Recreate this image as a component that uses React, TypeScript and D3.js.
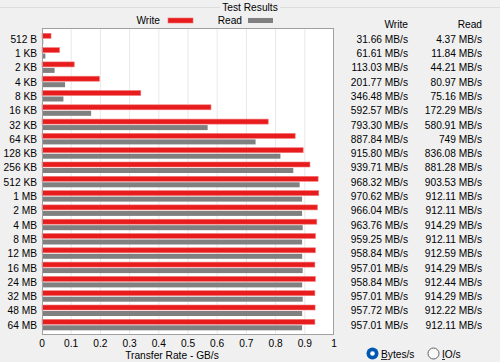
import React from 'react';
import * as d3 from 'd3';

const sizes = ['512 B', '1 KB', '2 KB', '4 KB', '8 KB', '16 KB', '32 KB', '64 KB', '128 KB', '256 KB', '512 KB',
  '1 MB', '2 MB', '4 MB', '8 MB', '12 MB', '16 MB', '24 MB', '32 MB', '48 MB', '64 MB'];
const writeMBs = [31.66, 61.61, 113.03, 201.77, 346.48, 592.57, 793.30, 887.84, 915.80, 939.71, 968.32,
  970.62, 966.04, 963.76, 959.25, 958.84, 957.01, 958.84, 957.01, 957.72, 957.01];
const readMBs = [4.37, 11.84, 44.21, 80.97, 75.16, 172.29, 580.91, 749, 836.08, 881.28, 903.53,
  912.11, 912.11, 914.29, 912.11, 912.59, 914.29, 912.44, 914.29, 912.22, 912.11];
const xTicks = [0, 0.1, 0.2, 0.3, 0.4, 0.5, 0.6, 0.7, 0.8, 0.9, 1];

const W = 500, H = 362;
const font = '"Liberation Sans", Arial, sans-serif';

function fmt(v: number) {
  const s = v.toFixed(2);
  return (s.endsWith('.00') ? String(Math.round(v)) : s) + ' MB/s';
}

export default function App() {
  // bars are in GiB/s (MB/s / 1024)
  const x = d3.scaleLinear().domain([0, 1]).range([42, 334]);
  const y = d3.scaleBand().domain(sizes).range([31.85, 332.15]).padding(0);
  const plotTop = 28, plotBottom = 335;

  return (
    <svg width={W} height={H} style={{ position: 'absolute', left: 0, top: 0, background: '#f0f0f0' }}
      fontFamily={font} fontSize={10.2}>
      <rect width={W} height={H} fill="#f0f0f0" />
      {/* group box line */}
      <line x1={0} x2={W} y1={7.5} y2={7.5} stroke="#dcdcdc" />
      <rect x={220} y={0} width={60} height={14} fill="#f0f0f0" />
      <text x={250} y={11} textAnchor="middle" fill="#000">Test Results</text>

      {/* legend */}
      <text x={160} y={24} textAnchor="end">Write</text>
      <rect x={168} y={18} width={25} height={5} fill="#e81c1c" stroke="#f07070" strokeWidth={0.6} />
      <text x={242} y={24} textAnchor="end">Read</text>
      <rect x={248} y={18} width={25} height={5} fill="#808080" />

      {/* plot area */}
      <rect x={42} y={plotTop} width={292} height={plotBottom - plotTop} fill="#fff" />
      {xTicks.slice(1, -1).map(t => (
        <line key={t} x1={x(t)} x2={x(t)} y1={plotTop} y2={plotBottom} stroke="#e8e8e8" />
      ))}
      {sizes.map((s, i) => {
        const c = (y(s) as number) + y.bandwidth() / 2;
        return (
          <g key={s}>
            <rect x={x(0)} y={c - 5.7} width={x(writeMBs[i] / 1024) - x(0)} height={5}
              fill="#e81c1c" stroke="#f27a7a" strokeWidth={0.6} />
            <rect x={x(0)} y={c + 0.3} width={x(readMBs[i] / 1024) - x(0)} height={5}
              fill="#808080" />
            <text x={37} y={c + 3.7} textAnchor="end">{s}</text>
            <text x={408} y={c + 3.7} textAnchor="end">{fmt(writeMBs[i])}</text>
            <text x={482} y={c + 3.7} textAnchor="end">{fmt(readMBs[i])}</text>
          </g>
        );
      })}
      <rect x={42.5} y={plotTop + 0.5} width={291} height={plotBottom - plotTop - 1} fill="none" stroke="#a0a0a0" />

      {xTicks.map(t => (
        <text key={t} x={x(t)} y={346.5} textAnchor="middle">{t}</text>
      ))}
      <text x={172} y={358.5} textAnchor="middle">Transfer Rate - GB/s</text>

      {/* table headers */}
      <text x={408} y={28} textAnchor="end">Write</text>
      <text x={482} y={28} textAnchor="end">Read</text>

      {/* radios */}
      <circle cx={372.5} cy={353.5} r={6} fill="#0058b0" />
      <circle cx={372.5} cy={353.5} r={2.3} fill="#fff" />
      <text x={381} y={357.5}>Bytes/s</text>
      <line x1={381} x2={387.5} y1={359.5} y2={359.5} stroke="#000" strokeWidth={0.8} />
      <circle cx={433.5} cy={353.5} r={5.5} fill="#f8f8f8" stroke="#606060" />
      <text x={442} y={357.5}>IO/s</text>
      <line x1={442} x2={445} y1={359.5} y2={359.5} stroke="#000" strokeWidth={0.8} />
    </svg>
  );
}
